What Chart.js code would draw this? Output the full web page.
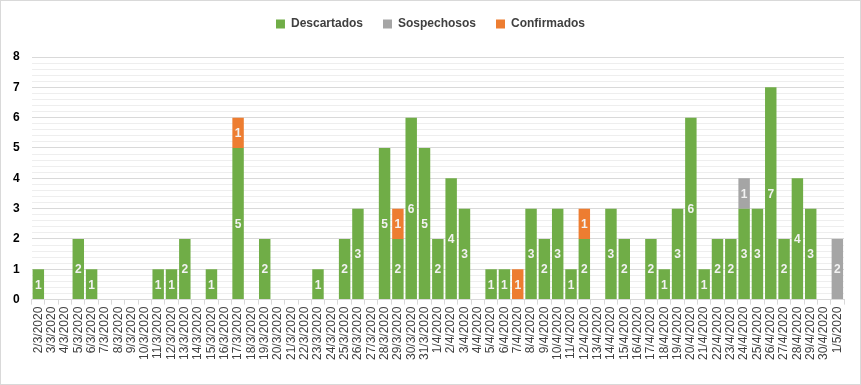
<!DOCTYPE html>
<html><head><meta charset="utf-8">
<script src="https://cdn.jsdelivr.net/npm/chart.js@4/dist/chart.umd.min.js"></script>
<style>
html,body{margin:0;padding:0;background:#fff;}
#wrap{position:relative;width:861px;height:385px;box-sizing:border-box;border:1px solid #d9d9d9;}
</style></head>
<body><div id="wrap"><canvas id="c"></canvas></div>
<script>
const categories = ["2/3/2020","3/3/2020","4/3/2020","5/3/2020","6/3/2020","7/3/2020","8/3/2020","9/3/2020","10/3/2020","11/3/2020","12/3/2020","13/3/2020","14/3/2020","15/3/2020","16/3/2020","17/3/2020","18/3/2020","19/3/2020","20/3/2020","21/3/2020","22/3/2020","23/3/2020","24/3/2020","25/3/2020","26/3/2020","27/3/2020","28/3/2020","29/3/2020","30/3/2020","31/3/2020","1/4/2020","2/4/2020","3/4/2020","4/4/2020","5/4/2020","6/4/2020","7/4/2020","8/4/2020","9/4/2020","10/4/2020","11/4/2020","12/4/2020","13/4/2020","14/4/2020","15/4/2020","16/4/2020","17/4/2020","18/4/2020","19/4/2020","20/4/2020","21/4/2020","22/4/2020","23/4/2020","24/4/2020","25/4/2020","26/4/2020","27/4/2020","28/4/2020","29/4/2020","30/4/2020","1/5/2020"];
const descartados = [1,0,0,2,1,0,0,0,0,1,1,2,0,1,0,5,0,2,0,0,0,1,0,2,3,0,5,2,6,5,2,4,3,0,1,1,0,3,2,3,1,2,0,3,2,0,2,1,3,6,1,2,2,3,3,7,2,4,3,0,0];
const sospechosos = [0,0,0,0,0,0,0,0,0,0,0,0,0,0,0,0,0,0,0,0,0,0,0,0,0,0,0,0,0,0,0,0,0,0,0,0,0,0,0,0,0,0,0,0,0,0,0,0,0,0,0,0,0,1,0,0,0,0,0,0,2];
const confirmados = [0,0,0,0,0,0,0,0,0,0,0,0,0,0,0,1,0,0,0,0,0,0,0,0,0,0,0,1,0,0,0,0,0,0,0,0,1,0,0,0,0,1,0,0,0,0,0,0,0,0,0,0,0,0,0,0,0,0,0,0,0];
const seriesNames = ["Descartados","Sospechosos","Confirmados"];
const yTicks = [0,1,2,3,4,5,6,7,8];

const labelPlugin = {
  id:'barLabels',
  afterDatasetsDraw(chart){
    const ctx = chart.ctx;
    ctx.save();
    ctx.font = 'bold 12px "Liberation Sans", Arial, sans-serif';
    ctx.fillStyle = '#f2f2f2';
    ctx.textAlign = 'center';
    ctx.textBaseline = 'middle';
    chart.data.datasets.forEach((ds,i)=>{
      const meta = chart.getDatasetMeta(i);
      meta.data.forEach((el,j)=>{
        const v = ds.data[j];
        if(!v) return;
        ctx.fillText(String(v), el.x, (el.y + el.base)/2 + 1);
      });
    });
    ctx.restore();
  }
};
const legendSpace = {
  id:'legendSpace',
  afterInit(chart){
    const lg = chart.legend;
    if(!lg) return;
    const orig = lg.fit;
    lg.fit = function(){ orig.call(this); this.height += 17; };
  }
};

const barOpts = {barPercentage:0.86, categoryPercentage:1.0, borderWidth:0, yAxisID:'y'};
new Chart(document.getElementById('c'), {
  type:'bar',
  data:{
    labels: categories,
    datasets:[
      Object.assign({label:seriesNames[0], data:descartados, backgroundColor:'#70ad47'}, barOpts),
      Object.assign({label:seriesNames[1], data:sospechosos, backgroundColor:'#a5a5a5'}, barOpts),
      Object.assign({label:seriesNames[2], data:confirmados, backgroundColor:'#ed7d31'}, barOpts)
    ]
  },
  options:{
    responsive:true, maintainAspectRatio:false, animation:false,
    layout:{padding:{left:0,right:0,top:-3,bottom:22}},
    plugins:{
      legend:{position:'top', labels:{boxWidth:9, boxHeight:9, padding:20, color:'#404040',
        font:{family:'"Liberation Sans", Arial, sans-serif', size:12, weight:'bold'}}},
      tooltip:{enabled:false}
    },
    scales:{
      x:{stacked:true, offset:true,
        grid:{display:true, offset:true, drawOnChartArea:false, tickLength:5, color:'#d9d9d9'},
        border:{display:true, color:'#d9d9d9'},
        ticks:{autoSkip:false, maxRotation:90, minRotation:90, color:'#404040', padding:2,
          font:{family:'"Liberation Sans", Arial, sans-serif', size:12}}},
      yMinor:{type:'linear', position:'left', min:0, max:8, display:true,
        grid:{color:(c)=> Math.abs(c.tick.value-Math.round(c.tick.value))<1e-6 ? 'rgba(0,0,0,0)' : '#eeeeee', drawTicks:false},
        border:{display:false},
        ticks:{display:false, stepSize:0.2}},
      yRight:{type:'linear', position:'right', min:0, max:8, display:true,
        grid:{drawOnChartArea:false, drawTicks:false},
        border:{display:false},
        ticks:{display:false},
        afterFit:(s)=>{ s.width = 16; }},
      y:{stacked:true, min:0, max:8,
        grid:{color:'#d9d9d9', drawTicks:false},
        border:{display:false},
        afterBuildTicks:(s)=>{ s.ticks = yTicks.map(v=>({value:v})); },
        ticks:{color:'#000', padding:12, font:{family:'"Liberation Sans", Arial, sans-serif', size:12, weight:'bold'}}}
    }
  },
  plugins:[labelPlugin, legendSpace]
});
</script></body></html>
